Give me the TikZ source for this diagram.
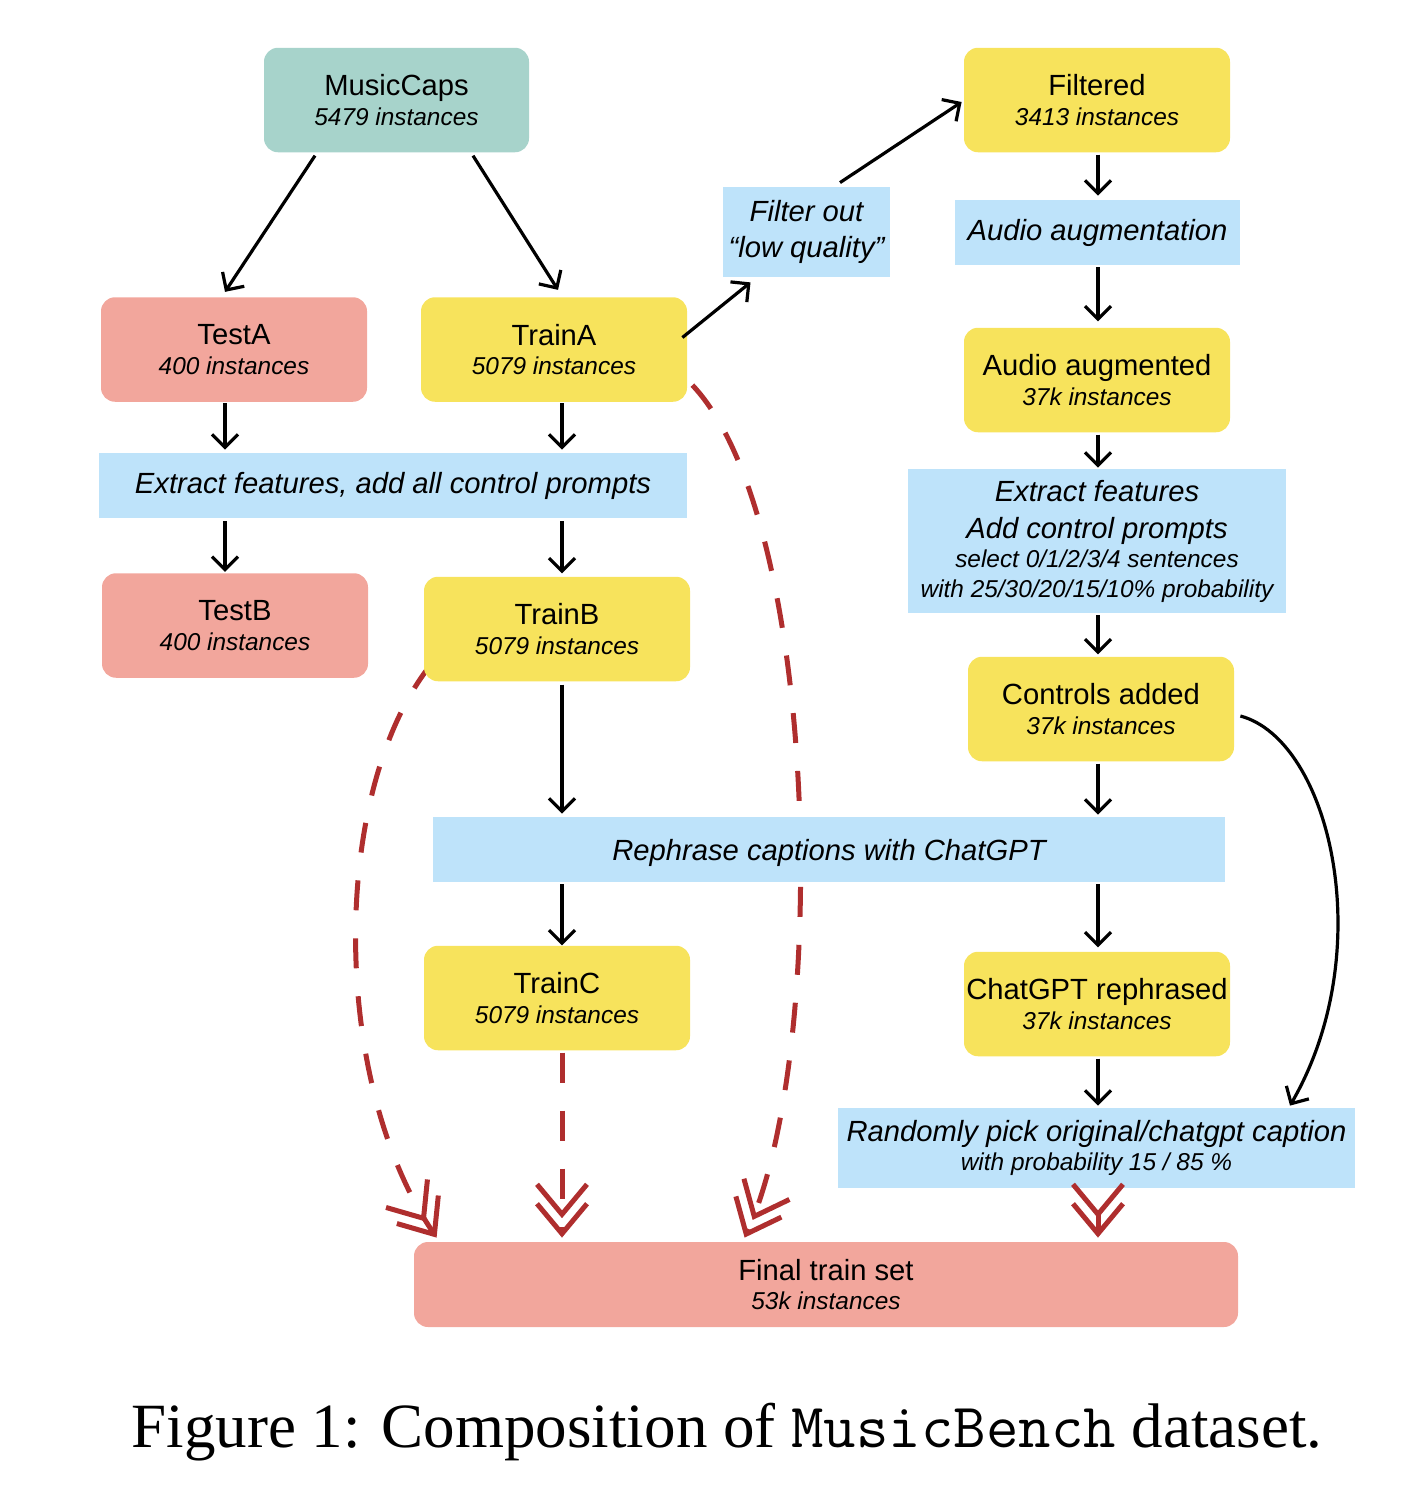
\documentclass[tikz,border=0pt]{standalone}
\usepackage{fontspec}
\setmainfont{Liberation Sans}
\newfontfamily\capfont{Liberation Serif}
\usetikzlibrary{arrows.meta,calc,backgrounds}
\definecolor{cteal}{HTML}{A7D3CB}
\definecolor{csal}{HTML}{F2A69C}
\definecolor{cyel}{HTML}{F7E35C}
\definecolor{cblue}{HTML}{BEE3FA}
\definecolor{cred}{HTML}{AF2E2E}
\newcommand\subl{\fontsize{12.2pt}{14.75pt}\selectfont\itshape}
\begin{document}
\begin{tikzpicture}[x=0.5pt,y=-0.5pt,
 box/.style={rounded corners=7pt, inner sep=0pt, align=center, minimum width=133pt, minimum height=52.25pt, font=\fontsize{14.6pt}{14.75pt}\selectfont},
 boxyel/.style={box, fill=cyel},
 boxsal/.style={box, fill=csal},
 boxteal/.style={box, fill=cteal},
 proc/.style={inner sep=0pt, align=center, fill=cblue, font=\fontsize{14.6pt}{14.75pt}\selectfont\itshape},
 arr/.style={line width=1.6pt, -{Straight Barb[length=6.5pt,width=13pt]}},
 rarr/.style={line width=2.5pt, draw=cred, dash pattern=on 15pt off 14pt, -{Straight Barb[length=15pt,width=25pt,sep=-8.5pt] Straight Barb[length=15pt,width=25pt]}}
]
\useasboundingbox (0,0) rectangle (1416,1490);

% left column
\node[boxteal, minimum width=132.5pt] (musiccaps) at (396.5,100) {MusicCaps\\{\subl 5479 instances}};
\node[boxsal] (testA) at (234,349.5) {TestA\\{\subl 400 instances}};
\node[boxyel] (trainA) at (554,349.5) {TrainA\\{\subl 5079 instances}};
\node[proc, minimum width=294pt, minimum height=32.5pt] (extractL) at (393,485.5) {Extract features, add all control prompts};
\node[boxsal] (testB) at (235,625.5) {TestB\\{\subl 400 instances}};
\node[boxyel] (trainB) at (557,629) {TrainB\\{\subl 5079 instances}};
\node[proc, minimum width=396pt, minimum height=32.5pt, text depth=0pt] (rephrase) at (829,849.5) {Rephrase captions with ChatGPT};
\node[boxyel] (trainC) at (557,998) {TrainC\\{\subl 5079 instances}};
\node[boxsal, minimum width=412pt, minimum height=42.5pt] (final) at (826,1284.5) {Final train set\\{\subl 53k instances}};

% right column
\node[proc, minimum width=83.5pt, minimum height=45pt] (filter) at (806.5,232) {Filter out\\[3.25pt]“low quality”};
\node[boxyel] (filtered) at (1097,100) {Filtered\\{\subl 3413 instances}};
\node[proc, minimum width=142.5pt, minimum height=32.5pt] (audioaug) at (1097.5,232.5) {Audio augmentation};
\node[boxyel] (audioaugmented) at (1097,380) {Audio augmented\\{\subl 37k instances}};
\node[proc, minimum width=189pt, minimum height=72pt] (extractR) at (1097,541) {Extract features\\[3.75pt]Add control prompts\\{\subl select 0/1/2/3/4 sentences}\\{\subl with 25/30/20/15/10\% probability}};
\node[boxyel] (controls) at (1101,709) {Controls added\\{\subl 37k instances}};
\node[boxyel] (chatgpt) at (1097,1004) {ChatGPT rephrased\\{\subl 37k instances}};
\node[proc, minimum width=258.5pt, minimum height=40pt] (randomly) at (1096.5,1148) {Randomly pick original/chatgpt caption\\{\subl with probability 15 / 85 \%}};

% caption
\node[font=\capfont\fontsize{31.5pt}{36pt}\selectfont, anchor=base, inner sep=0pt] (cap) at (727,1447) {Figure 1: Composition of {\ttfamily MusicBench} dataset.};

% black arrows
\draw[arr] ($(musiccaps.south)+(-81.5,3)$) -- ($(testA.north)+(-9,-5)$);
\draw[arr] ($(musiccaps.south)+(76.5,3)$) -- ($(trainA.north)+(4,-7)$);
\draw[arr] ($(testA.south)+(-9,1)$) -- ($(extractL.north)+(-168,-3)$);
\draw[arr] ($(trainA.south)+(8,1)$) -- ($(extractL.north)+(169,-3)$);
\draw[arr] ($(extractL.south)+(-168,3)$) -- ($(testB.north)+(-10,-1)$);
\draw[arr] ($(extractL.south)+(169,3)$) -- ($(trainB.north)+(5,-3)$);
\draw[arr] ($(trainB.south)+(5,3)$) -- ($(rephrase.north)+(-267,-3)$);
\draw[arr] ($(rephrase.south)+(-267,2)$) -- ($(trainC.north)+(5,0)$);
\draw[arr] ($(trainA.east)+(-5,-12)$) -- ($(filter.south)+(-56,5)$);
\draw[arr] ($(filter.north)+(33.5,-4)$) -- ($(filtered.west)+(-2,2)$);
\draw[arr] ($(filtered.south)+(1,2)$) -- ($(audioaug.north)+(0.5,-4)$);
\draw[arr] ($(audioaug.south)+(0.5,2)$) -- ($(audioaugmented.north)+(1,-6)$);
\draw[arr] ($(audioaugmented.south)+(1,2)$) -- ($(extractR.north)+(1,-1)$);
\draw[arr] ($(extractR.south)+(1,2)$) -- ($(controls.north)+(-3,-2)$);
\draw[arr] ($(controls.south)+(-3,2)$) -- ($(rephrase.north)+(269,-2)$);
\draw[arr] ($(rephrase.south)+(269,2)$) -- ($(chatgpt.north)+(1,-4)$);
\draw[arr] ($(chatgpt.south)+(1,2)$) -- ($(randomly.north)+(1.5,-2)$);
\draw[arr] ($(controls.east)+(6,7)$) .. controls (1330,740) and (1380,950) .. ($(randomly.north)+(193.5,-2)$);

% red arrows
\draw[rarr] ($(trainC.south)+(5,2)$) -- ($(final.north)+(-264,-4)$);
\draw[rarr] ($(randomly.south)+(1.5,24)$) -- ($(final.north)+(272,-4)$);
\begin{pgfonlayer}{background}
\draw[rarr] ($(trainB.south west)+(8,-18)$) .. controls (330,790) and (330,1080) .. ($(final.north west)+(23,-4)$);
\draw[rarr] ($(trainA.south east)+(5,-17)$) .. controls (820,520) and (830,1050) .. ($(final.north west)+(331,-4)$);
\end{pgfonlayer}
\end{tikzpicture}
\end{document}
